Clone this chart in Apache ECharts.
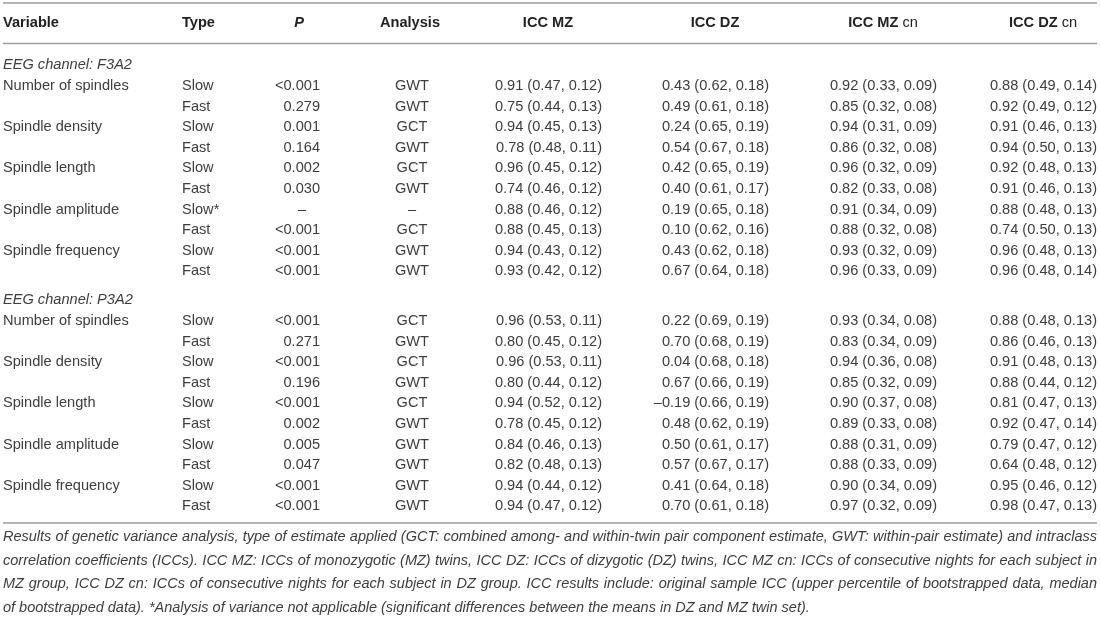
<!DOCTYPE html>
<html>
<head>
<meta charset="utf-8">
<script src="https://cdn.jsdelivr.net/npm/echarts@6/dist/echarts.min.js"></script>
<style>
  html, body { margin: 0; background: #fff; }
  #chart { width: 1100px; height: 619px; }
</style>
</head>
<body>
<div id="chart"></div>
<script>
// table data
const headers = ['Variable', 'Type', 'P', 'Analysis', 'ICC MZ', 'ICC DZ', 'ICC MZ cn', 'ICC DZ cn']
const sections = ['EEG channel: F3A2', 'EEG channel: P3A2']
const variables = ['Number of spindles', 'Spindle density', 'Spindle length', 'Spindle amplitude', 'Spindle frequency']
const typesF3 = ['Slow', 'Fast', 'Slow', 'Fast', 'Slow', 'Fast', 'Slow*', 'Fast', 'Slow', 'Fast']
const typesP3 = ['Slow', 'Fast', 'Slow', 'Fast', 'Slow', 'Fast', 'Slow', 'Fast', 'Slow', 'Fast']

const pF3 = ['<0.001', '0.279', '0.001', '0.164', '0.002', '0.030', '–', '<0.001', '<0.001', '<0.001']
const anaF3 = ['GWT', 'GWT', 'GCT', 'GWT', 'GCT', 'GWT', '–', 'GCT', 'GWT', 'GWT']
const mzF3 = ['0.91 (0.47, 0.12)', '0.75 (0.44, 0.13)', '0.94 (0.45, 0.13)', '0.78 (0.48, 0.11)', '0.96 (0.45, 0.12)',
  '0.74 (0.46, 0.12)', '0.88 (0.46, 0.12)', '0.88 (0.45, 0.13)', '0.94 (0.43, 0.12)', '0.93 (0.42, 0.12)']
const dzF3 = ['0.43 (0.62, 0.18)', '0.49 (0.61, 0.18)', '0.24 (0.65, 0.19)', '0.54 (0.67, 0.18)', '0.42 (0.65, 0.19)',
  '0.40 (0.61, 0.17)', '0.19 (0.65, 0.18)', '0.10 (0.62, 0.16)', '0.43 (0.62, 0.18)', '0.67 (0.64, 0.18)']
const mzcnF3 = ['0.92 (0.33, 0.09)', '0.85 (0.32, 0.08)', '0.94 (0.31, 0.09)', '0.86 (0.32, 0.08)', '0.96 (0.32, 0.09)',
  '0.82 (0.33, 0.08)', '0.91 (0.34, 0.09)', '0.88 (0.32, 0.08)', '0.93 (0.32, 0.09)', '0.96 (0.33, 0.09)']
const dzcnF3 = ['0.88 (0.49, 0.14)', '0.92 (0.49, 0.12)', '0.91 (0.46, 0.13)', '0.94 (0.50, 0.13)', '0.92 (0.48, 0.13)',
  '0.91 (0.46, 0.13)', '0.88 (0.48, 0.13)', '0.74 (0.50, 0.13)', '0.96 (0.48, 0.13)', '0.96 (0.48, 0.14)']

const pP3 = ['<0.001', '0.271', '<0.001', '0.196', '<0.001', '0.002', '0.005', '0.047', '<0.001', '<0.001']
const anaP3 = ['GCT', 'GWT', 'GCT', 'GWT', 'GCT', 'GWT', 'GWT', 'GWT', 'GWT', 'GWT']
const mzP3 = ['0.96 (0.53, 0.11)', '0.80 (0.45, 0.12)', '0.96 (0.53, 0.11)', '0.80 (0.44, 0.12)', '0.94 (0.52, 0.12)',
  '0.78 (0.45, 0.12)', '0.84 (0.46, 0.13)', '0.82 (0.48, 0.13)', '0.94 (0.44, 0.12)', '0.94 (0.47, 0.12)']
const dzP3 = ['0.22 (0.69, 0.19)', '0.70 (0.68, 0.19)', '0.04 (0.68, 0.18)', '0.67 (0.66, 0.19)', '–0.19 (0.66, 0.19)',
  '0.48 (0.62, 0.19)', '0.50 (0.61, 0.17)', '0.57 (0.67, 0.17)', '0.41 (0.64, 0.18)', '0.70 (0.61, 0.18)']
const mzcnP3 = ['0.93 (0.34, 0.08)', '0.83 (0.34, 0.09)', '0.94 (0.36, 0.08)', '0.85 (0.32, 0.09)', '0.90 (0.37, 0.08)',
  '0.89 (0.33, 0.08)', '0.88 (0.31, 0.09)', '0.88 (0.33, 0.09)', '0.90 (0.34, 0.09)', '0.97 (0.32, 0.09)']
const dzcnP3 = ['0.88 (0.48, 0.13)', '0.86 (0.46, 0.13)', '0.91 (0.48, 0.13)', '0.88 (0.44, 0.12)', '0.81 (0.47, 0.13)',
  '0.92 (0.47, 0.14)', '0.79 (0.47, 0.12)', '0.64 (0.48, 0.12)', '0.95 (0.46, 0.12)', '0.98 (0.47, 0.13)']

const captionLines = [
  'Results of genetic variance analysis, type of estimate applied (GCT: combined among- and within-twin pair component estimate, GWT: within-pair estimate) and intraclass',
  'correlation coefficients (ICCs). ICC MZ: ICCs of monozygotic (MZ) twins, ICC DZ: ICCs of dizygotic (DZ) twins, ICC MZ cn: ICCs of consecutive nights for each subject in',
  'MZ group, ICC DZ cn: ICCs of consecutive nights for each subject in DZ group. ICC results include: original sample ICC (upper percentile of bootstrapped data, median',
  'of bootstrapped data). *Analysis of variance not applicable (significant differences between the means in DZ and MZ twin set).'
]

// layout
const FONT = '"Liberation Sans", Arial, sans-serif'
const FS = 14.6
const TXT = '#3d3d3d'
const LINE = '#9c9c9c'
const LEFT = 3
const RIGHT = 1097
const TYPE_X = 182
const P_RIGHT = 320
const P_DASH = 302
const ANA_X = 412
const ICC_RIGHT = [602, 769, 937, 1097]
const ICC_W = 108
const ROW_STEP = 20.6
const sectionY = [65, 300]

const g = []
const txt = (x, y, s, o = {}) => {
  g.push({
    type: 'text',
    x,
    y,
    silent: true,
    style: Object.assign({
      text: s,
      fontFamily: FONT,
      fontSize: FS,
      fill: TXT,
      align: 'left',
      verticalAlign: 'middle'
    }, o)
  })
}
const hline = y => {
  g.push({ type: 'line', silent: true, shape: { x1: LEFT, y1: y, x2: RIGHT, y2: y }, style: { stroke: LINE, lineWidth: 1.4 } })
}

hline(3)
hline(43.5)
hline(523)

// header
const hy = 23
const hb = { fontWeight: 'bold', fill: '#222' }
txt(LEFT, hy, headers[0], hb)
txt(TYPE_X, hy, headers[1], hb)
txt(299, hy, headers[2], Object.assign({ fontStyle: 'italic', align: 'center' }, hb))
txt(410, hy, headers[3], Object.assign({ align: 'center' }, hb))
headers.slice(4).forEach((h, i) => {
  const cx = ICC_RIGHT[i] - ICC_W / 2
  const parts = h.split(' cn')
  if (h.endsWith(' cn')) {
    txt(cx, hy, `{b|${parts[0]}}{n| cn}`, {
      align: 'center',
      rich: {
        b: { fontFamily: FONT, fontSize: FS, fontWeight: 'bold', fill: '#222' },
        n: { fontFamily: FONT, fontSize: FS, fontWeight: 'normal', fill: '#222' }
      }
    })
  } else {
    txt(cx, hy, h, Object.assign({ align: 'center' }, hb))
  }
})

const blocks = [
  [typesF3, pF3, anaF3, [mzF3, dzF3, mzcnF3, dzcnF3]],
  [typesP3, pP3, anaP3, [mzP3, dzP3, mzcnP3, dzcnP3]]
]

blocks.forEach(([types, ps, anas, iccs], s) => {
  txt(LEFT, sectionY[s], sections[s], { fontStyle: 'italic' })
  const y0 = sectionY[s] + 21
  types.forEach((t, i) => {
    const y = y0 + i * ROW_STEP
    if (i % 2 === 0) txt(LEFT, y, variables[i / 2])
    txt(TYPE_X, y, t)
    if (ps[i] === '–') txt(P_DASH, y, ps[i], { align: 'center' })
    else txt(P_RIGHT, y, ps[i], { align: 'right' })
    txt(ANA_X, y, anas[i], { align: 'center' })
    iccs.forEach((col, c) => txt(ICC_RIGHT[c], y, col[i], { align: 'right' }))
  })
})

// caption, justified like the source
const ctx = document.createElement('canvas').getContext('2d')
const measure = (s, fs) => {
  ctx.font = `italic ${fs}px "Liberation Sans"`
  return ctx.measureText(s).width
}
const lastW = 822
const capFs = Math.min(14.5, 14 * lastW / measure(captionLines[3], 14))
const capY = [537, 560.5, 584, 607.5]
captionLines.forEach((line, li) => {
  const opts = { fontStyle: 'italic', fontSize: capFs }
  if (li === captionLines.length - 1) {
    txt(LEFT, capY[li], line, opts)
    return
  }
  const words = line.split(' ')
  const ws = words.map(w => measure(w, capFs))
  const total = ws.reduce((a, b) => a + b, 0)
  const gap = (RIGHT - LEFT - total) / (words.length - 1)
  let x = LEFT
  words.forEach((w, k) => {
    txt(x, capY[li], w, opts)
    x += ws[k] + gap
  })
})

const chart = echarts.init(document.getElementById('chart'))
chart.setOption({
  backgroundColor: '#fff',
  animation: false,
  graphic: { elements: g }
})
</script>
</body>
</html>
